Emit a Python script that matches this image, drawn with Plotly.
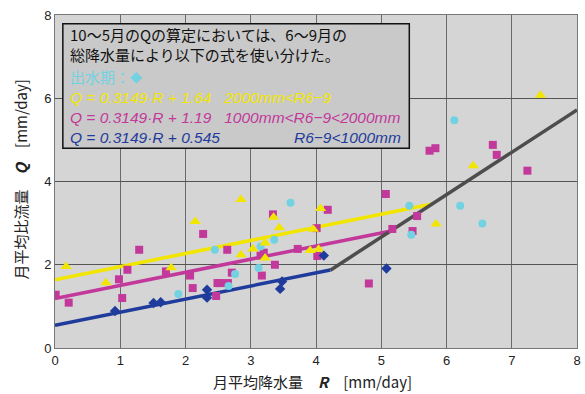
import plotly.graph_objects as go

# ---- data ----
blue_x = [0.92, 1.51, 1.62, 2.33, 2.33, 3.48, 3.45, 4.12, 5.08]
blue_y = [0.89, 1.08, 1.10, 1.40, 1.21, 1.60, 1.42, 2.22, 1.91]

magenta_x = [0.01, 0.21, 0.98, 1.03, 1.11, 1.29, 1.70, 2.07, 2.11, 2.27, 2.47, 2.49, 2.53,
             2.64, 2.65, 2.71, 3.15, 3.17, 3.20, 3.34, 3.37, 3.72, 4.01, 4.18, 4.02, 4.81,
             5.07, 5.17, 5.48, 5.55, 5.74, 5.83, 6.71, 6.77, 7.24]
magenta_y = [1.28, 1.09, 1.65, 1.20, 1.88, 2.36, 1.84, 1.74, 1.44, 2.74, 1.25, 1.56, 1.56,
             2.36, 1.56, 1.81, 2.22, 1.74, 2.29, 3.21, 2.00, 2.38, 2.88, 3.32, 2.21, 1.55,
             3.70, 2.86, 2.81, 3.17, 4.74, 4.80, 4.88, 4.64, 4.26]

yellow_x = [0.17, 0.78, 1.78, 2.15, 2.85, 2.85, 3.03, 3.22, 3.22, 3.35, 3.44, 4.07, 3.96,
            3.91, 4.04, 5.84, 6.41, 7.44]
yellow_y = [1.96, 1.57, 1.93, 3.04, 3.57, 2.24, 2.38, 2.52, 2.16, 3.14, 2.89, 3.35, 2.85,
            2.34, 2.37, 2.98, 4.38, 6.07]

cyan_x = [1.89, 2.45, 2.66, 2.76, 3.12, 3.15, 3.36, 3.61, 5.43, 5.46, 6.21, 6.55, 6.12]
cyan_y = [1.30, 2.36, 1.49, 1.78, 1.92, 2.44, 2.60, 3.49, 3.42, 2.72, 3.42, 2.99, 5.47]

slope = 0.3149
intercepts = {"yellow": 1.64, "magenta": 1.19, "blue": 0.545}
line_ends = {"yellow": 5.78, "magenta": 5.19, "blue": 4.22}
gray_x = [4.22, 8.0]
gray_y = [1.87, 5.72]

x_ticks = [0, 1, 2, 3, 4, 5, 6, 7, 8]
y_ticks = [0, 2, 4, 6, 8]

C_YEL = "#f2e600"
C_MAG = "#c2399b"
C_BLU = "#1f3c9c"
C_CYA = "#72d2e2"
C_GRY = "#4d4d4d"

fig = go.Figure()

for name, col in [("yellow", C_YEL), ("magenta", C_MAG), ("blue", C_BLU)]:
    xs = [0, line_ends[name]]
    ys = [slope * v + intercepts[name] for v in xs]
    fig.add_trace(go.Scatter(x=xs, y=ys, mode="lines",
                             line=dict(color=col, width=3.5), hoverinfo="skip"))
fig.add_trace(go.Scatter(x=gray_x, y=gray_y, mode="lines",
                         line=dict(color=C_GRY, width=3.5), hoverinfo="skip"))

fig.add_trace(go.Scatter(x=magenta_x, y=magenta_y, mode="markers",
                         marker=dict(symbol="square", size=8, color=C_MAG)))
fig.add_trace(go.Scatter(x=cyan_x, y=cyan_y, mode="markers",
                         marker=dict(symbol="circle", size=8, color=C_CYA)))
fig.add_trace(go.Scatter(x=yellow_x, y=yellow_y, mode="markers",
                         marker=dict(symbol="triangle-up", size=10, color=C_YEL)))
fig.add_trace(go.Scatter(x=blue_x, y=blue_y, mode="markers",
                         marker=dict(symbol="diamond", size=8, color=C_BLU)))

# text box
fig.add_shape(type="rect", xref="x", yref="y", x0=0.12, x1=5.43, y0=4.80, y1=7.79,
              fillcolor="#c9c9c9", line=dict(color="#111111", width=1.5), layer="above")

JP = "Noto Sans CJK JP"
IT = "Liberation Sans"
ann = [
    dict(x=0.2, y=7.52, text="10～5月のQの算定においては、6～9月の", font=dict(family=JP, size=15, color="#111")),
    dict(x=0.2, y=7.04, text="総降水量により以下の式を使い分けた。", font=dict(family=JP, size=15, color="#111")),
    dict(x=0.2, y=6.53, text="出水期：<span style='font-size:12px'>◆</span>", font=dict(family=JP, size=15, color=C_CYA)),
    dict(x=0.2, y=6.02, text="<i>Q = 0.3149·R + 1.64   2000mm&lt;R6−9</i>", font=dict(family=IT, size=15.5, color=C_YEL)),
    dict(x=0.2, y=5.54, text="<i>Q = 0.3149·R + 1.19   1000mm&lt;R6−9&lt;2000mm</i>", font=dict(family=IT, size=15.5, color=C_MAG)),
    dict(x=0.2, y=5.06, text="<i>Q = 0.3149·R + 0.545</i>", font=dict(family=IT, size=15.5, color=C_BLU)),
]
for a in ann:
    fig.add_annotation(xref="x", yref="y", xanchor="left", yanchor="middle", showarrow=False, **a)
fig.add_annotation(xref="x", yref="y", x=5.33, y=5.06, xanchor="right", yanchor="middle",
                   showarrow=False, text="<i>R6−9&lt;1000mm</i>",
                   font=dict(family=IT, size=15.5, color=C_BLU))

# axis titles
fig.add_annotation(xref="paper", yref="paper", x=0.5, y=0, xshift=-4, yshift=-33,
                   xanchor="center", yanchor="middle", showarrow=False,
                   text="月平均降水量　<b><i>R</i></b>　[mm/day]",
                   font=dict(family=JP, size=15, color="#222"))
fig.add_annotation(xref="paper", yref="paper", x=0, y=0.5, xshift=-35, yshift=2,
                   xanchor="center", yanchor="middle", showarrow=False, textangle=-90,
                   text="月平均比流量　<b><i>Q</i></b>　[mm/day]",
                   font=dict(family=JP, size=15, color="#222"))

fig.update_layout(
    width=585, height=394,
    margin=dict(l=55, r=8, t=15, b=46, autoexpand=False),
    paper_bgcolor="white", plot_bgcolor="#d5d5d5",
    showlegend=False,
    font=dict(family=JP, size=13, color="#222"),
)
fig.update_xaxes(range=[0, 8], tickvals=x_ticks, ticktext=[str(v) for v in x_ticks],
                 showgrid=True, gridcolor="#6a6a6a", gridwidth=1, zeroline=False,
                 showline=True, linecolor="#777", mirror=True, ticks="", ticklen=0,
                 automargin=False,
                 tickfont=dict(family="Liberation Sans", size=13, color="#222"))
fig.update_yaxes(range=[0, 8], tickvals=y_ticks, ticktext=[str(v) for v in y_ticks],
                 showgrid=True, gridcolor="#555", gridwidth=1, zeroline=False,
                 showline=True, linecolor="#777", mirror=True, ticks="", ticklen=0,
                 automargin=False,
                 tickfont=dict(family="Liberation Sans", size=13, color="#222"))

fig.write_html("out.html", config={"displayModeBar": False},
               post_script="document.body.style.margin='0px';")
